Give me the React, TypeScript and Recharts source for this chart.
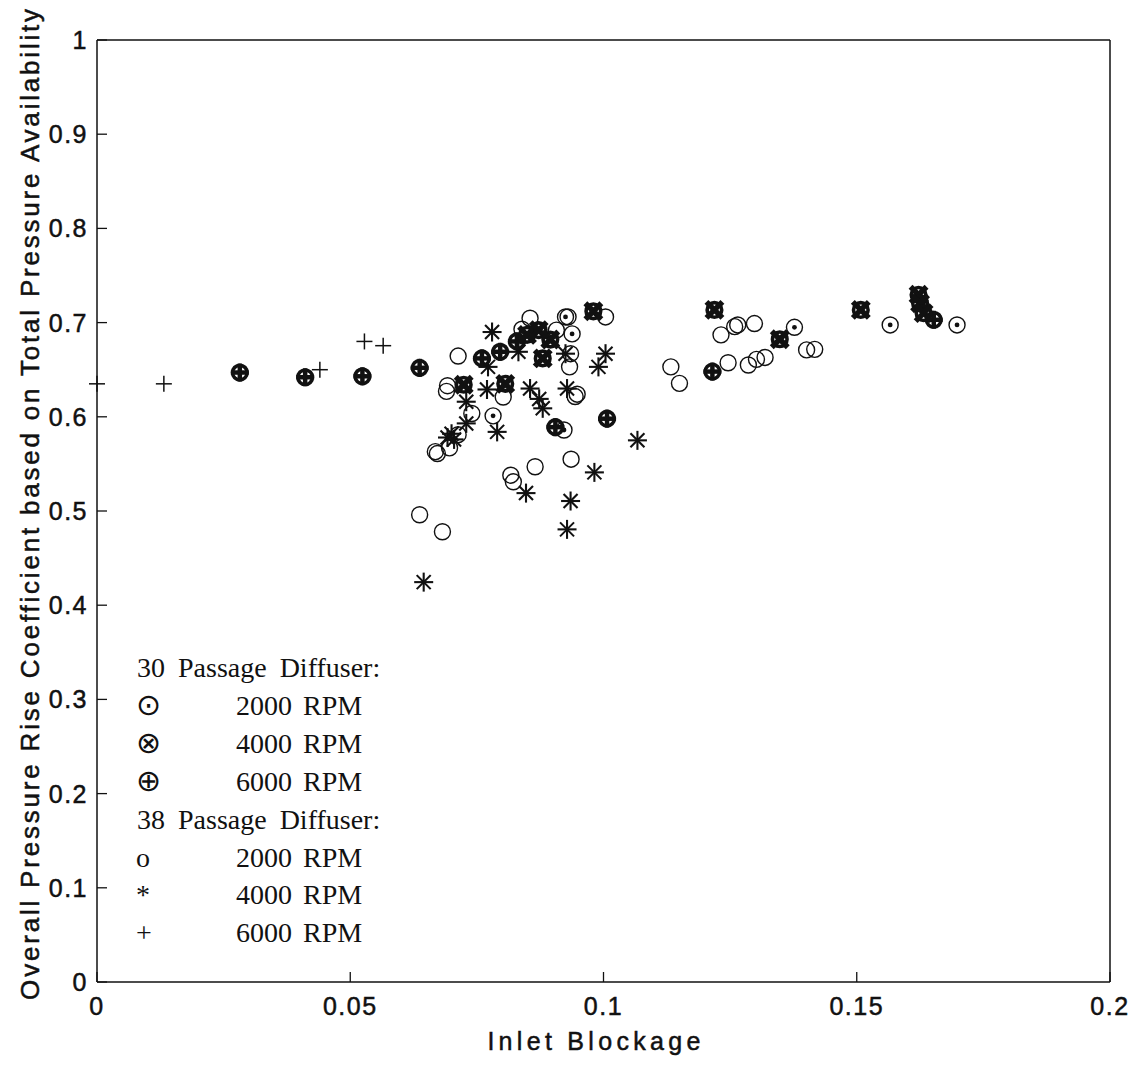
import React from "react";
import { Scatter, ScatterChart, XAxis, YAxis } from "recharts";

// Inlet blockage vs. overall pressure rise coefficient
const xTicks = [0, 0.05, 0.1, 0.15, 0.2];
const yTicks = [0, 0.1, 0.2, 0.3, 0.4, 0.5, 0.6, 0.7, 0.8, 0.9, 1];

type Pt = { x: number; y: number };

// 30 passage diffuser
const p30rpm2000: Pt[] = [
  { x: 0.0782, y: 0.601 },
  { x: 0.0922, y: 0.586 },
  { x: 0.0925, y: 0.706 },
  { x: 0.0938, y: 0.688 },
  { x: 0.1377, y: 0.695 },
  { x: 0.1566, y: 0.6975 },
  { x: 0.1698, y: 0.6975 },
];

const p30rpm4000: Pt[] = [
  { x: 0.0724, y: 0.634 },
  { x: 0.0806, y: 0.635 },
  { x: 0.0849, y: 0.687 },
  { x: 0.0872, y: 0.692 },
  { x: 0.088, y: 0.662 },
  { x: 0.0895, y: 0.682 },
  { x: 0.098, y: 0.712 },
  { x: 0.1219, y: 0.7135 },
  { x: 0.1348, y: 0.6823 },
  { x: 0.1508, y: 0.7135 },
  { x: 0.1622, y: 0.7295 },
  { x: 0.1625, y: 0.7206 },
  { x: 0.1632, y: 0.71 },
];

const p30rpm6000: Pt[] = [
  { x: 0.0282, y: 0.647 },
  { x: 0.0411, y: 0.642 },
  { x: 0.0524, y: 0.643 },
  { x: 0.0637, y: 0.652 },
  { x: 0.076, y: 0.662 },
  { x: 0.0796, y: 0.669 },
  { x: 0.0829, y: 0.68 },
  { x: 0.0905, y: 0.589 },
  { x: 0.1007, y: 0.598 },
  { x: 0.1215, y: 0.648 },
  { x: 0.1652, y: 0.703 },
];

// 38 passage diffuser
const p38rpm2000: Pt[] = [
  { x: 0.0637, y: 0.496 },
  { x: 0.0682, y: 0.478 },
  { x: 0.0668, y: 0.563 },
  { x: 0.0672, y: 0.561 },
  { x: 0.0696, y: 0.567 },
  { x: 0.069, y: 0.627 },
  { x: 0.0692, y: 0.633 },
  { x: 0.0713, y: 0.6645 },
  { x: 0.0713, y: 0.581 },
  { x: 0.074, y: 0.6035 },
  { x: 0.0802, y: 0.621 },
  { x: 0.0817, y: 0.538 },
  { x: 0.0822, y: 0.531 },
  { x: 0.0839, y: 0.693 },
  { x: 0.0855, y: 0.7046 },
  { x: 0.0865, y: 0.547 },
  { x: 0.0907, y: 0.692 },
  { x: 0.093, y: 0.706 },
  { x: 0.0933, y: 0.653 },
  { x: 0.0935, y: 0.667 },
  { x: 0.0936, y: 0.555 },
  { x: 0.0944, y: 0.6215 },
  { x: 0.0948, y: 0.624 },
  { x: 0.1004, y: 0.706 },
  { x: 0.1133, y: 0.653 },
  { x: 0.115, y: 0.6355 },
  { x: 0.1232, y: 0.687 },
  { x: 0.1246, y: 0.6574 },
  { x: 0.1259, y: 0.6957 },
  { x: 0.1265, y: 0.6975 },
  { x: 0.1286, y: 0.655 },
  { x: 0.1298, y: 0.699 },
  { x: 0.1302, y: 0.661 },
  { x: 0.1319, y: 0.663 },
  { x: 0.1401, y: 0.671 },
  { x: 0.1417, y: 0.6716 },
];

const p38rpm4000: Pt[] = [
  { x: 0.0645, y: 0.4245 },
  { x: 0.0692, y: 0.578 },
  { x: 0.07, y: 0.582 },
  { x: 0.0705, y: 0.576 },
  { x: 0.0729, y: 0.593 },
  { x: 0.0729, y: 0.616 },
  { x: 0.077, y: 0.629 },
  { x: 0.0772, y: 0.653 },
  { x: 0.078, y: 0.69 },
  { x: 0.079, y: 0.584 },
  { x: 0.0832, y: 0.669 },
  { x: 0.0847, y: 0.519 },
  { x: 0.0855, y: 0.63 },
  { x: 0.0873, y: 0.619 },
  { x: 0.088, y: 0.609 },
  { x: 0.0925, y: 0.667 },
  { x: 0.0928, y: 0.63 },
  { x: 0.0935, y: 0.5106 },
  { x: 0.0928, y: 0.4805 },
  { x: 0.0982, y: 0.541 },
  { x: 0.099, y: 0.653 },
  { x: 0.1004, y: 0.667 },
  { x: 0.1067, y: 0.575 },
];

const p38rpm6000: Pt[] = [
  { x: 0, y: 0.635 },
  { x: 0.0132, y: 0.635 },
  { x: 0.044, y: 0.65 },
  { x: 0.0528, y: 0.68 },
  { x: 0.0565, y: 0.6755 },
];

const INK = "#111";
const SANS = "'Liberation Sans', Arial, Helvetica, sans-serif";
const SERIF = "'Liberation Serif', 'Times New Roman', serif";

type Kind = "dot" | "times" | "oplus" | "open" | "star" | "plus";

function Marker({ cx, cy, kind }: { cx: number; cy: number; kind: Kind }) {
  if (cx == null || cy == null) return null;
  switch (kind) {
    case "dot":
      return (
        <g>
          <circle cx={cx} cy={cy} r={8} fill="none" stroke={INK} strokeWidth={1.4} />
          <circle cx={cx} cy={cy} r={2.4} fill={INK} />
        </g>
      );
    case "times":
      return (
        <g stroke={INK}>
          <circle cx={cx} cy={cy} r={7.3} fill="none" strokeWidth={3.6} />
          <line x1={cx - 8} y1={cy - 8} x2={cx + 8} y2={cy + 8} strokeWidth={5.5} />
          <line x1={cx - 8} y1={cy + 8} x2={cx + 8} y2={cy - 8} strokeWidth={5.5} />
        </g>
      );
    case "oplus":
      return (
        <g stroke={INK}>
          <circle cx={cx} cy={cy} r={7.3} fill="none" strokeWidth={3.6} />
          <line x1={cx - 9} y1={cy} x2={cx + 9} y2={cy} strokeWidth={4.5} />
          <line x1={cx} y1={cy - 9} x2={cx} y2={cy + 9} strokeWidth={4.5} />
        </g>
      );
    case "open":
      return <circle cx={cx} cy={cy} r={8} fill="none" stroke={INK} strokeWidth={1.4} />;
    case "star":
      return (
        <g stroke={INK} strokeWidth={2.1}>
          <line x1={cx - 9.5} y1={cy} x2={cx + 9.5} y2={cy} />
          <line x1={cx} y1={cy - 9.5} x2={cx} y2={cy + 9.5} />
          <line x1={cx - 7} y1={cy - 7} x2={cx + 7} y2={cy + 7} />
          <line x1={cx - 7} y1={cy + 7} x2={cx + 7} y2={cy - 7} />
        </g>
      );
    default:
      return (
        <g stroke={INK} strokeWidth={1.5}>
          <line x1={cx - 8} y1={cy} x2={cx + 8} y2={cy} />
          <line x1={cx} y1={cy - 8} x2={cx} y2={cy + 8} />
        </g>
      );
  }
}

const shapeOf = (kind: Kind) => (p: any) => <Marker cx={p.cx} cy={p.cy} kind={kind} />;

const TICK_LEN = 10;

// axis ticks point into the plot box, MATLAB style
function BottomTick({ x, y, payload }: any) {
  return (
    <g>
      <line x1={x} y1={y} x2={x} y2={y - TICK_LEN} stroke={INK} strokeWidth={1.3} />
      <text
        x={x}
        y={y + 33}
        textAnchor="middle"
        fontFamily={SANS}
        fontSize={25}
        letterSpacing={1.5}
        fill={INK}
        stroke={INK}
        strokeWidth={0.5}
      >
        {String(payload.value)}
      </text>
    </g>
  );
}

function TopTick({ x, y }: any) {
  return <line x1={x} y1={y} x2={x} y2={y + TICK_LEN} stroke={INK} strokeWidth={1.3} />;
}

function LeftTick({ x, y, payload }: any) {
  return (
    <g>
      <line x1={x} y1={y} x2={x + TICK_LEN} y2={y} stroke={INK} strokeWidth={1.3} />
      <text
        x={x - 9}
        y={y + 9}
        textAnchor="end"
        fontFamily={SANS}
        fontSize={25}
        letterSpacing={1.5}
        fill={INK}
        stroke={INK}
        strokeWidth={0.5}
      >
        {String(payload.value)}
      </text>
    </g>
  );
}

function RightTick({ x, y }: any) {
  return <line x1={x} y1={y} x2={x - TICK_LEN} y2={y} stroke={INK} strokeWidth={1.3} />;
}

const legendRows: { sym: string; text: string; symFont?: string }[] = [
  { sym: "", text: "30 Passage Diffuser:" },
  { sym: "⊙", text: "2000 RPM", symFont: "'DejaVu Sans', sans-serif" },
  { sym: "⊗", text: "4000 RPM", symFont: "'DejaVu Sans', sans-serif" },
  { sym: "⊕", text: "6000 RPM", symFont: "'DejaVu Sans', sans-serif" },
  { sym: "", text: "38 Passage Diffuser:" },
  { sym: "o", text: "2000 RPM" },
  { sym: "*", text: "4000 RPM" },
  { sym: "+", text: "6000 RPM" },
];

export default function App() {
  const axisLine = { stroke: INK, strokeWidth: 1.5 };
  return (
    <div style={{ position: "absolute", left: 0, top: 0, width: 1142, height: 1067, background: "#fff" }}>
      <ScatterChart width={1142} height={1067} margin={{ top: 39, right: 31, bottom: 1, left: 0 }}>
        <XAxis
          xAxisId="b"
          dataKey="x"
          type="number"
          domain={[0, 0.2]}
          ticks={xTicks}
          height={84}
          tickSize={0}
          tickMargin={0}
          tickLine={false}
          axisLine={axisLine}
          tick={<BottomTick />}
        />
        <XAxis
          xAxisId="t"
          orientation="top"
          type="number"
          domain={[0, 0.2]}
          ticks={xTicks}
          height={1}
          tickSize={0}
          tickMargin={0}
          tickLine={false}
          axisLine={axisLine}
          tick={<TopTick />}
        />
        <YAxis
          yAxisId="l"
          dataKey="y"
          type="number"
          domain={[0, 1]}
          ticks={yTicks}
          width={97}
          tickSize={0}
          tickMargin={0}
          tickLine={false}
          axisLine={axisLine}
          tick={<LeftTick />}
        />
        <YAxis
          yAxisId="r"
          orientation="right"
          type="number"
          domain={[0, 1]}
          ticks={yTicks}
          width={1}
          tickSize={0}
          tickMargin={0}
          tickLine={false}
          axisLine={axisLine}
          tick={<RightTick />}
        />
        <Scatter xAxisId="b" yAxisId="l" data={p38rpm2000} shape={shapeOf("open")} isAnimationActive={false} />
        <Scatter xAxisId="b" yAxisId="l" data={p38rpm6000} shape={shapeOf("plus")} isAnimationActive={false} />
        <Scatter xAxisId="b" yAxisId="l" data={p38rpm4000} shape={shapeOf("star")} isAnimationActive={false} />
        <Scatter xAxisId="b" yAxisId="l" data={p30rpm2000} shape={shapeOf("dot")} isAnimationActive={false} />
        <Scatter xAxisId="b" yAxisId="l" data={p30rpm6000} shape={shapeOf("oplus")} isAnimationActive={false} />
        <Scatter xAxisId="b" yAxisId="l" data={p30rpm4000} shape={shapeOf("times")} isAnimationActive={false} />
      </ScatterChart>

      <svg
        width={1142}
        height={1067}
        style={{ position: "absolute", left: 0, top: 0, pointerEvents: "none" }}
      >
        <text
          x={596}
          y={1050}
          textAnchor="middle"
          fontFamily={SANS}
          fontSize={25}
          letterSpacing={4.3}
          fill={INK}
          stroke={INK}
          strokeWidth={0.5}
        >
          Inlet Blockage
        </text>
        <text
          transform="translate(39 503) rotate(-90)"
          textAnchor="middle"
          fontFamily={SANS}
          fontSize={26}
          letterSpacing={2.8}
          fill={INK}
          stroke={INK}
          strokeWidth={0.5}
        >
          Overall Pressure Rise Coefficient based on Total Pressure Availability
        </text>
        {legendRows.map((row, i) => {
          const base = 677 + i * 37.9;
          return (
            <g key={i} fontFamily={SERIF} fontSize={28} fill={INK}>
              {row.sym ? (
                <>
                  <text x={136} y={base} fontFamily={row.symFont ?? SERIF} fontSize={row.symFont ? 30 : 28}>
                    {row.sym}
                  </text>
                  <text x={236} y={base} wordSpacing={4}>
                    {row.text}
                  </text>
                </>
              ) : (
                <text x={137} y={base} wordSpacing={6}>
                  {row.text}
                </text>
              )}
            </g>
          );
        })}
      </svg>
    </div>
  );
}
